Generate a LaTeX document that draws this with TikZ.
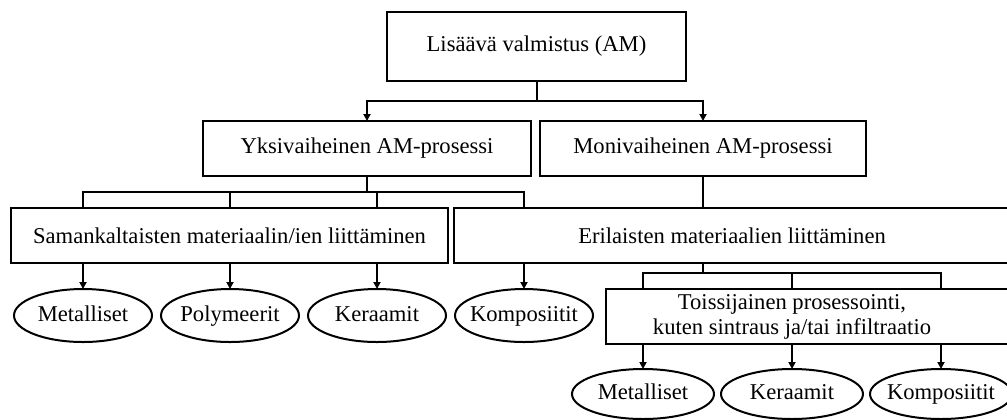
\documentclass[tikz,border=0pt]{standalone}
\usepackage{fontspec}
\setmainfont{Liberation Serif}
\usepackage{tikz}
\usetikzlibrary{positioning,shapes,arrows.meta}
\tikzstyle{stage}=[rectangle, draw=black, line width=1pt, text centered,
        minimum height=27.5pt, inner sep=2pt, outer sep=0pt]
\tikzstyle{material}=[ellipse, draw=black, line width=1pt, text centered,
        minimum width=69pt, minimum height=26.5pt, inner ysep=0pt, inner xsep=-6pt,
        outer sep=0pt, text height=1.5ex, text depth=0.25ex]
\tikzstyle{link}=[line width=1pt, line cap=rect]
\tikzstyle{feed}=[line width=1pt, -{Triangle[length=3.5pt,width=3.5pt]}]

\begin{document}
\begin{tikzpicture}[node distance=13pt, font=\fontsize{11.3}{12.5}\selectfont]
        \useasboundingbox (0,0) rectangle (503.5pt,-209.5pt);
        \clip (0,0) rectangle (503.5pt,-209.5pt);
        % process levels
        \node (am) [stage, minimum width=149.5pt, minimum height=34.5pt] at (268.25pt,-23.25pt)
        {Lisäävä valmistus (AM)};
        \node (yksi) [stage, minimum width=164pt, below=20pt of am, xshift=-84.75pt]
        {Yksivaiheinen AM-prosessi};
        \node (moni) [stage, minimum width=163pt, below=20pt of am, xshift=83.25pt]
        {Monivaiheinen AM-prosessi};
        \node (saman) [stage, minimum width=218.5pt, below=16pt of yksi, xshift=-68.75pt]
        {Samankaltaisten materiaalin/ien liittäminen};
        \node (eril) [stage, minimum width=278pt, below=16pt of moni, xshift=14.5pt]
        {Erilaisten materiaalien liittäminen};
        % materials, first row
        \node (met1) [material, below=13pt of saman, xshift=-73.25pt] {Metalliset};
        \node (pol) [material, right=4.5pt of met1] {Polymeerit};
        \node (ker1) [material, right=4.5pt of pol] {Keraamit};
        \node (komp1) [material, right=4.5pt of ker1] {Komposiitit};
        % secondary processing
        \node (tois) [stage, draw=none, align=center, minimum width=186pt, below=13pt of eril, xshift=30pt]
        {Toissijainen prosessointi,\\kuten sintraus ja/tai infiltraatio};
        \draw[link] (tois.south west) rectangle ([xshift=20pt]tois.north east);
        % materials, second row
        \node (met2) [material, minimum width=71pt, minimum height=25pt, below=12.5pt of tois, xshift=-74.5pt] {Metalliset};
        \node (ker2) [material, minimum width=71pt, minimum height=25pt, right=3.5pt of met2] {Keraamit};
        \node (komp2) [material, minimum width=71pt, minimum height=25pt, right=3.5pt of ker2] {Komposiitit};

        % connectors
        \draw[link] (am.south) -- ++(0,-10pt) coordinate (split);
        \draw[feed] (split) -| (yksi.north);
        \draw[feed] (split) -| (moni.north);
        \draw[link] (yksi.south) -- ++(0,-8pt) coordinate (fork);
        \draw[link] (fork -| met1) -- (fork -| komp1);
        \foreach \m in {met1,pol,ker1}
          \draw[link] (fork -| \m) -- (\m |- saman.north);
        \draw[link] (fork -| komp1) -- (komp1 |- eril.north);
        \draw[link] (moni.south) -- (moni.south |- eril.north);
        \foreach \m in {met1,pol,ker1}
          \draw[feed] (\m |- saman.south) -- (\m.north);
        \draw[feed] (komp1 |- eril.south) -- (komp1.north);
        \draw[link] (moni.south |- eril.south) -- ++(0,-5pt) coordinate (fork2);
        \draw[link] (fork2 -| met2) -- (fork2 -| komp2);
        \foreach \m in {met2,ker2,komp2} {
          \draw[link] (fork2 -| \m) -- (\m |- tois.north);
          \draw[feed] (\m |- tois.south) -- (\m.north);
        }
\end{tikzpicture}
\end{document}
